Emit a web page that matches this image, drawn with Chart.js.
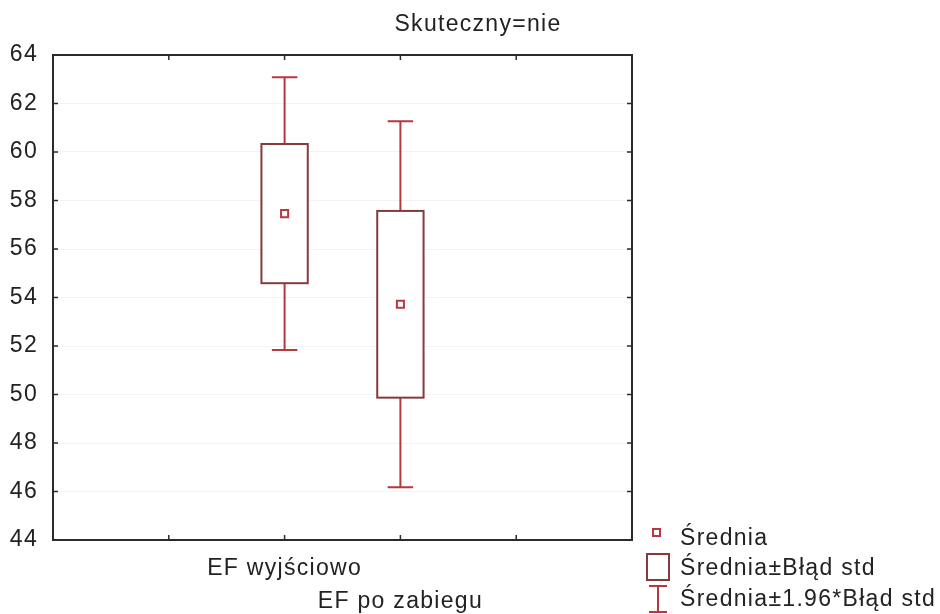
<!DOCTYPE html>
<html>
<head>
<meta charset="utf-8">
<script src="https://cdn.jsdelivr.net/npm/chart.js@4/dist/chart.umd.min.js"></script>
<style>
  body { margin: 0; background: #fff; }
  #wrap { width: 940px; height: 614px; }
</style>
</head>
<body>
<div id="wrap"><canvas id="chart"></canvas></div>
<script>
const titleText = 'Skuteczny=nie';
const categories = ['EF wyjściowo', 'EF po zabiegu'];
const categoryPos = [2, 3];
const means = [57.46, 53.72];
const stdErrors = [2.87, 3.85];
const xTickPos = [1, 2, 3, 4];
const legendLabels = ['Średnia', 'Średnia±Błąd std', 'Średnia±1.96*Błąd std'];

const FONT = '"Liberation Sans", Arial, sans-serif';
const FONT_SIZE = 23;
const SPACING = '1.3px';
const BOX_COLOR = '#853a3c';
const WHISKER_COLOR = '#b3393f';
const MEAN_COLOR = '#b8393f';
const FRAME_COLOR = '#2b2b2b';

// boxes, whiskers, frame, inner ticks, labels and legend
const statsPlugin = {
    id: 'statsPlugin',
    beforeDraw(chart) {
        // wider letter spacing for every text drawn on the canvas
        chart.ctx.letterSpacing = SPACING;
    },
    beforeDatasetsDraw(chart) {
        const { ctx, scales: { x, y } } = chart;
        ctx.save();
        categoryPos.forEach((pos, i) => {
            const m = means[i], se = stdErrors[i];
            const cx = x.getPixelForValue(pos);
            const bl = x.getPixelForValue(pos - 0.2), br = x.getPixelForValue(pos + 0.2);
            const cl = x.getPixelForValue(pos - 0.11), cr = x.getPixelForValue(pos + 0.11);
            const boxTop = y.getPixelForValue(m + se), boxBot = y.getPixelForValue(m - se);
            const wTop = y.getPixelForValue(m + 1.96 * se), wBot = y.getPixelForValue(m - 1.96 * se);

            ctx.strokeStyle = WHISKER_COLOR;
            ctx.lineWidth = 2;
            ctx.beginPath();
            ctx.moveTo(cx, boxTop); ctx.lineTo(cx, wTop);
            ctx.moveTo(cl, wTop); ctx.lineTo(cr, wTop);
            ctx.moveTo(cx, boxBot); ctx.lineTo(cx, wBot);
            ctx.moveTo(cl, wBot); ctx.lineTo(cr, wBot);
            ctx.stroke();

            ctx.fillStyle = '#fff';
            ctx.fillRect(bl, boxTop, br - bl, boxBot - boxTop);
            ctx.strokeStyle = BOX_COLOR;
            ctx.strokeRect(bl, boxTop, br - bl, boxBot - boxTop);
        });
        ctx.restore();
    },
    afterDraw(chart) {
        const { ctx, chartArea: a, scales: { x, y } } = chart;
        ctx.save();

        // frame
        ctx.strokeStyle = FRAME_COLOR;
        ctx.lineWidth = 2;
        ctx.strokeRect(a.left, a.top, a.right - a.left, a.bottom - a.top);

        // ticks pointing inward
        ctx.lineWidth = 1.5;
        ctx.beginPath();
        y.ticks.forEach(t => {
            const py = y.getPixelForValue(t.value);
            ctx.moveTo(a.left, py); ctx.lineTo(a.left + 5, py);
            ctx.moveTo(a.right, py); ctx.lineTo(a.right - 5, py);
        });
        xTickPos.forEach(v => {
            const px = x.getPixelForValue(v);
            ctx.moveTo(px, a.bottom); ctx.lineTo(px, a.bottom - 5);
            ctx.moveTo(px, a.top); ctx.lineTo(px, a.top + 5);
        });
        ctx.stroke();

        ctx.fillStyle = '#222';
        ctx.font = FONT_SIZE + 'px ' + FONT;
        ctx.letterSpacing = SPACING;
        ctx.textBaseline = 'middle';

        // category labels, staggered
        ctx.textAlign = 'center';
        categories.forEach((c, i) => {
            ctx.fillText(c, x.getPixelForValue(categoryPos[i]), a.bottom + 29 + i * 33);
        });

        // title
        ctx.fillText(titleText, 478, 25);

        // legend
        const lx = 680, rows = [539, 569, 600];
        ctx.textAlign = 'left';
        legendLabels.forEach((t, i) => ctx.fillText(t, lx, rows[i]));

        ctx.lineWidth = 2;
        ctx.strokeStyle = MEAN_COLOR;
        ctx.strokeRect(653, 529, 7, 7);

        ctx.strokeStyle = BOX_COLOR;
        ctx.strokeRect(647, 554, 22, 26);

        ctx.strokeStyle = WHISKER_COLOR;
        ctx.beginPath();
        ctx.moveTo(649, 586); ctx.lineTo(667, 586);
        ctx.moveTo(658, 586); ctx.lineTo(658, 612);
        ctx.moveTo(649, 612); ctx.lineTo(667, 612);
        ctx.stroke();

        ctx.restore();
    }
};

new Chart(document.getElementById('chart'), {
    type: 'scatter',
    data: {
        datasets: [{
            label: legendLabels[0],
            data: categoryPos.map((p, i) => ({ x: p, y: means[i] })),
            pointStyle: 'rect',
            pointRadius: 5,
            pointHoverRadius: 5,
            borderColor: MEAN_COLOR,
            borderWidth: 2,
            backgroundColor: '#fff'
        }]
    },
    options: {
        responsive: true,
        maintainAspectRatio: false,
        animation: false,
        events: [],
        layout: { padding: { top: 55, right: 308, left: 0, bottom: 0 } },
        plugins: { legend: { display: false }, tooltip: { enabled: false } },
        scales: {
            x: {
                type: 'linear', min: 0, max: 5,
                ticks: { display: false },
                grid: { display: false },
                border: { display: false },
                afterFit: s => { s.height = 74; }
            },
            y: {
                min: 44, max: 64,
                ticks: { stepSize: 2, color: '#222', padding: 15, font: { size: FONT_SIZE, family: FONT } },
                grid: { color: '#f3f3f3', drawTicks: false },
                border: { display: false },
                afterFit: s => { s.width = 53; }
            }
        }
    },
    plugins: [statsPlugin]
});
</script>
</body>
</html>
